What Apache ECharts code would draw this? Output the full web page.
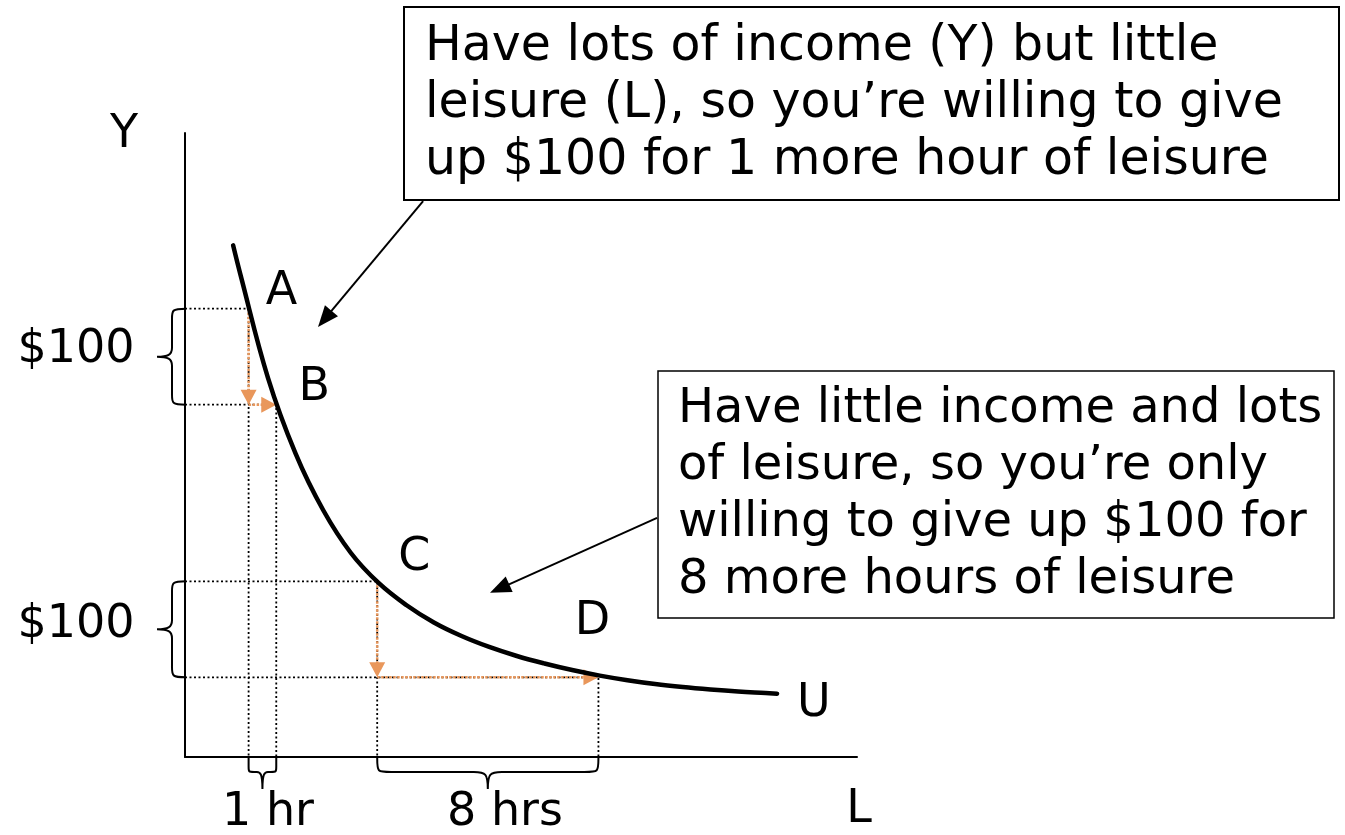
<!DOCTYPE html>
<html>
<head>
<meta charset="utf-8">
<style>
  html, body { margin: 0; padding: 0; background: #fff; }
  #chart { width: 1345px; height: 835px; }
</style>
<script src="https://cdn.jsdelivr.net/npm/echarts@6/dist/echarts.min.js"></script>
</head>
<body>
<div id="chart"></div>
<script>
// Indifference curve between income (Y, dollars) and leisure (L, hours)
const curveL = [1.74, 2, 3, 4, 5, 6, 7, 8, 9, 10, 11, 12, 13, 14, 15, 16, 17, 18, 19, 20, 21, 21.41];
const curveY = [533, 503, 395, 316, 257, 212.5, 181.3, 158.3, 140.1, 126, 114.6, 105.2, 97.4, 90.6, 84.8, 80, 76, 72.9, 70.4, 68.3, 66.7, 66];

// Marked bundles on the curve
const pointNames = ['A', 'B', 'C', 'D'];
const pointL = [2.3, 3.3, 6.95, 14.95];
const pointY = [467, 367, 183, 83];

// Callout arrows: from the text boxes towards the curve
const calloutFromL = [8.61, 17.07];
const calloutFromY = [579, 249];
const calloutToL = [4.81, 11.03];
const calloutToY = [448, 171];

// Brace captions: income given up, leisure gained
const braceLabels = ['$100', '$100', '1 hr', '8 hrs'];

const boxText1 = ['Have lots of income (Y) but little',
                  'leisure (L), so you\u2019re willing to give',
                  'up $100 for 1 more hour of leisure'];
const boxText2 = ['Have little income and lots',
                  'of leisure, so you\u2019re only',
                  'willing to give up $100 for',
                  '8 more hours of leisure'];

const FONT = '"DejaVu Sans", Verdana, sans-serif';
const ORANGE = '#E9975B';

const chart = echarts.init(document.getElementById('chart'));
const pt = i => [pointL[i], pointY[i]];

// Dotted guides from each point back to both axes
const guideSeries = pointNames.map((n, i) => ({
  type: 'line',
  data: [[0, pointY[i]], [pointL[i], pointY[i]], [pointL[i], 0]],
  symbol: 'none',
  silent: true,
  z: 1,
  lineStyle: { color: '#000', width: 1.8, type: [2, 2.5] }
}));

// Braces along the axes
const braceData = [
  ['y', pointY[1], pointY[0]],
  ['y', pointY[3], pointY[2]],
  ['x', pointL[0], pointL[1]],
  ['x', pointL[2], pointL[3]]
];

function bracePath(kind, p1, p2) {
  if (kind === 'y') {
    const x0 = p1[0];
    const yt = Math.min(p1[1], p2[1]), yb = Math.max(p1[1], p2[1]);
    const ym = (yt + yb) / 2;
    const xv = x0 - 13, xt = x0 - 28;
    return `M${x0 + 1},${yt} C${xv - 1},${yt} ${xv},${yt + 2} ${xv},${yt + 12} L${xv},${ym - 9} ` +
      `C${xv},${ym - 2} ${xv - 4},${ym} ${xt},${ym} C${xv - 4},${ym} ${xv},${ym + 2} ${xv},${ym + 9} ` +
      `L${xv},${yb - 12} C${xv},${yb - 2} ${xv - 1},${yb} ${x0 + 1},${yb}`;
  }
  const y0 = p1[1];
  const xl = Math.min(p1[0], p2[0]), xr = Math.max(p1[0], p2[0]);
  const xm = (xl + xr) / 2;
  const r = Math.min(14, (xm - xl) / 2.5);
  const yh = y0 + 15, yt = y0 + 32;
  return `M${xl},${y0} L${xl},${yh - r} C${xl},${yh} ${xl},${yh} ${xl + r},${yh} L${xm - r},${yh} ` +
    `C${xm - 2},${yh} ${xm},${yh + 2} ${xm},${yt} C${xm},${yh + 2} ${xm + 2},${yh} ${xm + r},${yh} ` +
    `L${xr - r},${yh} C${xr},${yh} ${xr},${yh} ${xr},${yh - r} L${xr},${y0}`;
}

const braceSeries = {
  type: 'custom',
  silent: true,
  z: 3,
  data: braceData.map((d, i) => [i, d[1], d[2]]),
  renderItem: function (params, api) {
    const d = braceData[params.dataIndex];
    let p1, p2;
    if (d[0] === 'y') { p1 = api.coord([0, d[1]]); p2 = api.coord([0, d[2]]); }
    else { p1 = api.coord([d[1], 0]); p2 = api.coord([d[2], 0]); }
    return {
      type: 'path',
      shape: { pathData: bracePath(d[0], p1, p2) },
      style: { fill: 'none', stroke: '#000', lineWidth: 2 }
    };
  }
};

// Arrow drawn between two data coordinates, with the head ending exactly at the target
function arrowSeries(items, color, width, dash, headLen, headHalf, z) {
  return {
    type: 'custom',
    silent: true,
    z: z,
    data: items.map(it => [it[0][0], it[0][1], it[1][0], it[1][1]]),
    encode: { x: [0, 2], y: [1, 3] },
    renderItem: function (params, api) {
      const it = items[params.dataIndex];
      const p1 = api.coord(it[0]), p2 = api.coord(it[1]);
      const dx = p2[0] - p1[0], dy = p2[1] - p1[1];
      const len = Math.sqrt(dx * dx + dy * dy);
      const ux = dx / len, uy = dy / len;
      const bx = p2[0] - ux * headLen, by = p2[1] - uy * headLen;
      return {
        type: 'group',
        children: [
          {
            type: 'line',
            shape: { x1: p1[0], y1: p1[1], x2: bx + ux * 2, y2: by + uy * 2 },
            style: { stroke: color, lineWidth: width, lineDash: dash }
          },
          {
            type: 'polygon',
            shape: { points: [[p2[0], p2[1]], [bx - uy * headHalf, by + ux * headHalf], [bx + uy * headHalf, by - ux * headHalf]] },
            style: { fill: color }
          }
        ]
      };
    }
  };
}

const moves = [
  [pt(0), [pointL[0], pointY[1]]],
  [[pointL[0], pointY[1]], pt(1)],
  [pt(2), [pointL[2], pointY[3]]],
  [[pointL[2], pointY[3]], pt(3)]
];
const callouts = calloutFromL.map((l, i) => [[l, calloutFromY[i]], [calloutToL[i], calloutToY[i]]]);

const curveSeries = {
  type: 'line',
  data: curveL.map((l, i) => [l, curveY[i]]),
  smooth: 0.4,
  symbol: 'none',
  silent: true,
  z: 5,
  lineStyle: { color: '#000', width: 4.5, cap: 'round', join: 'round' },
  endLabel: {
    show: true,
    formatter: 'U',
    color: '#000',
    fontFamily: FONT,
    fontSize: 46,
    offset: [12, 10]
  }
};

chart.setOption({
  animation: false,
  grid: { left: 185, right: 488, top: 133, bottom: 78, containLabel: false },
  xAxis: {
    type: 'value', min: 0, max: 24.3,
    axisLine: { show: true, lineStyle: { color: '#000', width: 2 } },
    axisTick: { show: false }, axisLabel: { show: false }, splitLine: { show: false }
  },
  yAxis: {
    type: 'value', min: 0, max: 650,
    axisLine: { show: true, lineStyle: { color: '#000', width: 2 } },
    axisTick: { show: false }, axisLabel: { show: false }, splitLine: { show: false }
  },
  series: [
    ...guideSeries,
    braceSeries,
    arrowSeries(moves, ORANGE, 2.5, [2.5, 1.5], 15, 8, 4),
    curveSeries,
    arrowSeries(callouts, '#000', 2, null, 21, 8.5, 6)
  ]
});

function textLines(lines, x, y0, step, size) {
  return lines.map((t, i) => ({
    type: 'text',
    x: x, y: y0 + i * step,
    silent: true,
    z: 20,
    style: { text: t, font: `${size}px ${FONT}`, fill: '#000', textVerticalAlign: 'middle' }
  }));
}

function label(t, x, y, size) {
  return {
    type: 'text', x: x, y: y, silent: true, z: 20,
    style: { text: t, font: `${size}px ${FONT}`, fill: '#000', textAlign: 'center', textVerticalAlign: 'middle' }
  };
}

// Point letters sit up and to the right of their bundle
const labelOffsets = [[33, -17], [38, -17], [37, -23], [-6, -55]];
const pointLabels = pointNames.map((n, i) => {
  const p = chart.convertToPixel({ gridIndex: 0 }, pt(i));
  return label(n, p[0] + labelOffsets[i][0], p[1] + labelOffsets[i][1], 46);
});

chart.setOption({
  graphic: [
    {
      type: 'rect', silent: true, z: 15,
      shape: { x: 404, y: 7, width: 935, height: 193 },
      style: { fill: '#fff', stroke: '#000', lineWidth: 2 }
    },
    {
      type: 'rect', silent: true, z: 15,
      shape: { x: 658, y: 371, width: 676, height: 247 },
      style: { fill: '#fff', stroke: '#000', lineWidth: 1.5 }
    },
    ...textLines(boxText1, 425, 47, 57, 49),
    ...textLines(boxText2, 678, 410, 57, 48),
    ...pointLabels,
    label('Y', 124, 135, 46),
    label('L', 859, 810, 46),
    label(braceLabels[0], 76, 350, 46),
    label(braceLabels[1], 76, 625, 46),
    label(braceLabels[2], 268, 813, 46),
    label(braceLabels[3], 505, 813, 46)
  ]
});
</script>
</body>
</html>
